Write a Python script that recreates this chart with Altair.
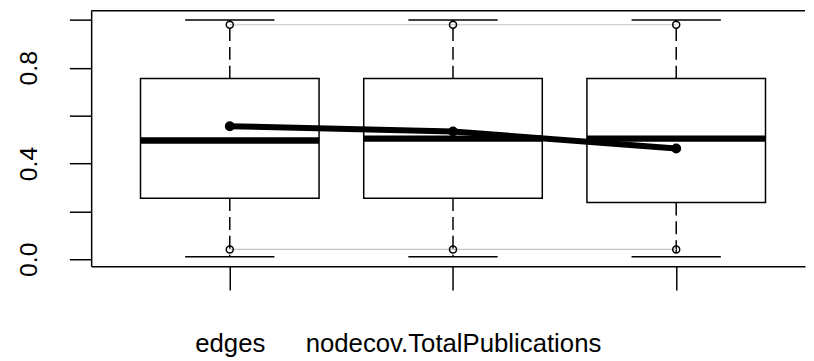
import altair as alt
import pandas as pd

# --- data ---
term_idx = [1, 2, 3]
term_labels = ["edges", "nodecov.TotalPublications", ""]
whisk_lo = [0.01, 0.01, 0.01]
q1 = [0.255, 0.255, 0.237]
median = [0.496, 0.504, 0.504]
q3 = [0.755, 0.755, 0.755]
whisk_hi = [1.0, 1.0, 1.0]
observed = [0.556, 0.534, 0.4625]
bound_lo = [0.041, 0.041, 0.041]
bound_hi = [0.980, 0.980, 0.980]

df = pd.DataFrame({
    "idx": term_idx, "label": term_labels,
    "lo": whisk_lo, "q1": q1, "med": median, "q3": q3, "hi": whisk_hi,
    "obs": observed, "blo": bound_lo, "bhi": bound_hi,
})

W, H = 721, 258
xs = alt.Scale(domain=[0.379, 3.577], nice=False, zero=False)
ys = alt.Scale(domain=[-0.029, 1.0385], nice=False, zero=False)

label_expr = ("datum.value == 1 ? '" + term_labels[0] + "' : datum.value == 2 ? '"
              + term_labels[1] + "' : '" + term_labels[2] + "'")

xaxis = alt.Axis(values=term_idx, labelExpr=label_expr, title=None, grid=False,
                 tickSize=24, tickWidth=1.5, tickColor="black", domainColor="black",
                 domainWidth=1.5, labelFont="Liberation Sans", labelFontSize=26,
                 labelColor="black", labelPadding=62, labelBaseline="alphabetic",
                 labelAlign="center", labelOverlap=False, labelFlush=False,
                 labelLimit=0)
yaxis = alt.Axis(values=[0, 0.2, 0.4, 0.6, 0.8, 1.0],
                 labelExpr="(datum.value < 0.05 && datum.value > -0.05) ? '0.0' : (abs(datum.value - 0.4) < 0.05 ? '0.4' : (abs(datum.value - 0.8) < 0.05 ? '0.8' : ''))",
                 title=None, grid=False, tickSize=22, tickWidth=1.5, tickColor="black",
                 domainColor="black", domainWidth=1.5, labelFont="Liberation Sans",
                 labelFontSize=25, labelColor="black", labelAngle=270, labelAlign="center",
                 labelBaseline="alphabetic", labelPadding=33, labelOverlap=False,
                 labelFlush=False, labelLimit=0)

base = alt.Chart(df).transform_calculate(
    xl="datum.idx - 0.4", xr="datum.idx + 0.4",
    cl="datum.idx - 0.2", cr="datum.idx + 0.2",
)

boxes = base.mark_rect(fill="white", stroke="black", strokeWidth=1.5).encode(
    x=alt.X("xl:Q", scale=xs, axis=xaxis), x2="xr:Q",
    y=alt.Y("q1:Q", scale=ys, axis=yaxis), y2="q3:Q")

med = base.mark_rule(color="black", strokeWidth=6.5).encode(
    x=alt.X("xl:Q", scale=xs), x2="xr:Q", y=alt.Y("med:Q", scale=ys))

wh_up = base.mark_rule(color="black", strokeWidth=1.5, strokeDash=[13, 6]).encode(
    x=alt.X("idx:Q", scale=xs), y=alt.Y("q3:Q", scale=ys), y2="hi:Q")
wh_dn = base.mark_rule(color="black", strokeWidth=1.5, strokeDash=[13, 6]).encode(
    x=alt.X("idx:Q", scale=xs), y=alt.Y("q1:Q", scale=ys), y2="lo:Q")

cap_up = base.mark_rule(color="black", strokeWidth=1.5).encode(
    x=alt.X("cl:Q", scale=xs), x2="cr:Q", y=alt.Y("hi:Q", scale=ys))
cap_dn = base.mark_rule(color="black", strokeWidth=1.5).encode(
    x=alt.X("cl:Q", scale=xs), x2="cr:Q", y=alt.Y("lo:Q", scale=ys))

bl_hi = base.mark_line(color="#c4c4c4", strokeWidth=1.2).encode(
    x=alt.X("idx:Q", scale=xs), y=alt.Y("bhi:Q", scale=ys))
bl_lo = base.mark_line(color="#c4c4c4", strokeWidth=1.2).encode(
    x=alt.X("idx:Q", scale=xs), y=alt.Y("blo:Q", scale=ys))
bp_hi = base.mark_point(shape="circle", filled=False, color="black", size=50,
                        strokeWidth=1.5, opacity=1).encode(
    x=alt.X("idx:Q", scale=xs), y=alt.Y("bhi:Q", scale=ys))
bp_lo = base.mark_point(shape="circle", filled=False, color="black", size=50,
                        strokeWidth=1.5, opacity=1).encode(
    x=alt.X("idx:Q", scale=xs), y=alt.Y("blo:Q", scale=ys))

obs_line = base.mark_line(color="black", strokeWidth=6).encode(
    x=alt.X("idx:Q", scale=xs), y=alt.Y("obs:Q", scale=ys))
obs_pts = base.mark_point(shape="circle", filled=True, color="black", size=100,
                          opacity=1).encode(
    x=alt.X("idx:Q", scale=xs), y=alt.Y("obs:Q", scale=ys))

frame_top = alt.Chart(alt.Data(values=[{"a": 1}])).mark_rule(
    color="black", strokeWidth=1.5).encode(
    x=alt.value(0), x2=alt.value(W), y=alt.value(0))

chart = alt.layer(
    boxes, med, wh_up, wh_dn, cap_up, cap_dn,
    bl_hi, bl_lo, bp_hi, bp_lo, obs_line, obs_pts, frame_top,
).properties(
    width=W, height=H,
    autosize=alt.AutoSizeParams(type="none"),
    padding={"left": 84, "top": 1, "right": 1, "bottom": 92},
    background="white",
).configure_view(stroke=None)

chart.save("out.html", embed_options={"renderer": "svg", "actions": False})
